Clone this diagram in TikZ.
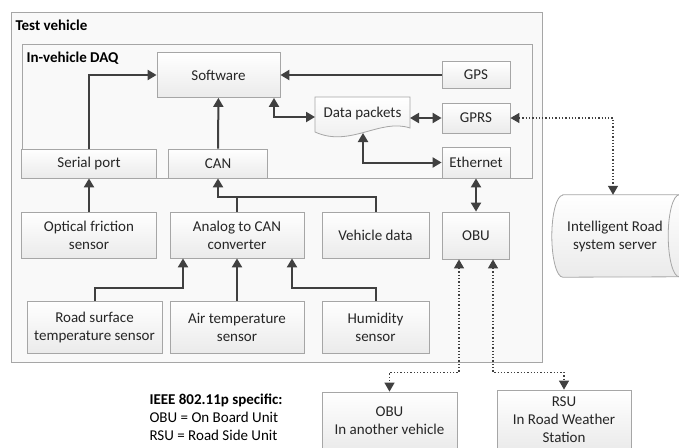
\documentclass[tikz,border=0pt]{standalone}
\usepackage{fontspec}
\setmainfont{Carlito}
\usetikzlibrary{arrows.meta,positioning}

\definecolor{edgegray}{HTML}{A6A6A6}
\definecolor{linkgray}{HTML}{404040}
\definecolor{txtgray}{HTML}{262626}

\begin{document}
\begin{tikzpicture}[x=1pt,y=-1pt,
            font=\fontsize{15}{18}\selectfont,text=txtgray,
            frame/.style={draw=edgegray,fill=gray!5,line width=.8pt},
            unit/.style={draw=edgegray,line width=.8pt,top color=white,bottom color=gray!16,
                         align=center,inner sep=2pt},
            title/.style={anchor=west,font=\fontsize{15}{18}\selectfont\bfseries,text=black},
            link/.style={draw=linkgray,line width=2pt,-{Triangle[length=9pt,width=10pt]}},
            dlink/.style={link,{Triangle[length=9pt,width=10pt]}-{Triangle[length=9pt,width=10pt]}},
            radio/.style={dlink,line width=1.3pt,dotted}
          ]
          \useasboundingbox (0,0) rectangle (679,447);
          \clip (0,0) rectangle (679,447);

          %containers
          \node[frame,minimum width=531,minimum height=350] (car) at (276.5,187) {};
          \node[title] (cartitle) at (12,25) {Test vehicle};
          \node[frame,minimum width=510,minimum height=134] (daq) at (277,111) {};
          \node[title] (daqtitle) at (23,58) {In-vehicle DAQ};

          %acquisition units
          \node[unit,minimum width=123,minimum height=45] (soft) at (218.5,75) {Software};
          \node[unit,minimum width=135,minimum height=29] (serial) at (89,163.5) {Serial port};
          \node[unit,minimum width=99,minimum height=29] (can) at (218,163.5) {CAN};
          \node[unit,minimum width=68,minimum height=27] (gps) at (476,75) {GPS};
          \node[unit,minimum width=68,minimum height=30] (gprs) at (476,118) {GPRS};
          \node[unit,minimum width=68,minimum height=31] (eth) at (476,162.5) {Ethernet};

          %data packets document
          \coordinate (dpA) at (315,97);
          \coordinate (dpB) at (410,97);
          \path[draw=edgegray,line width=.8pt,top color=white,bottom color=gray!16]
            (dpA) -- (dpB) -- (410,128) .. controls (380,118) and (350,148) .. (315,132) -- cycle;
          \node (data) at (362.5,113) {Data packets};
          \coordinate (dpW) at (315,117);
          \coordinate (dpE) at (410,118);
          \coordinate (dpS) at (363,133);

          %sensors
          \node[unit,minimum width=135,minimum height=46] (opt) at (89,235) {Optical friction\\sensor};
          \node[unit,minimum width=134,minimum height=46] (adc) at (237,235) {Analog to CAN\\converter};
          \node[unit,minimum width=107,minimum height=46] (veh) at (375.5,235) {Vehicle data};
          \node[unit,minimum width=67,minimum height=47] (obu) at (476,235.5) {OBU};
          \node[unit,minimum width=135,minimum height=52] (road) at (94.5,327) {Road surface\\temperature sensor};
          \node[unit,minimum width=134,minimum height=52] (air) at (237,327) {Air temperature\\sensor};
          \node[unit,minimum width=107,minimum height=52] (hum) at (375.5,327) {Humidity\\sensor};

          %outside the vehicle
          \node[minimum width=116,minimum height=82,align=center] (server) at (621,236) {};
          \path[draw=edgegray,line width=.8pt,top color=white,bottom color=gray!16]
            (server.north west) -- (server.north east)
            arc[start angle=-90,end angle=90,x radius=11,y radius=41]
            -- (server.south west)
            arc[start angle=90,end angle=270,x radius=11,y radius=41] -- cycle;
          \draw[edgegray,line width=.8pt] (server.north east)
            arc[start angle=-90,end angle=-270,x radius=11,y radius=41];
          \node[align=center] (servertext) at (615,236) {Intelligent Road\\system server};
          \node[unit,minimum width=135,minimum height=58] (obu2) at (389.5,421) {OBU\\In another vehicle};
          \node[unit,minimum width=134,minimum height=60] (rsu) at (564,420) {RSU\\In Road Weather\\Station};

          %legend
          \node[anchor=west,align=left,text=black] (legend) at (146,417)
            {\textbf{IEEE 802.11p specific:}\\OBU = On Board Unit\\RSU = Road Side Unit};

          %links
          \coordinate (bus) at (218,197);
          \coordinate (gprsturn) at (613,118);
          \draw[link] (gps) -- (soft);
          \draw[link] (serial.north) |- (soft.west);
          \draw[link] (can) -- (soft);
          \draw[link] (opt) -- (serial);
          \draw[link] (air) -- (adc);
          \draw[link,-] (adc.north) -- (adc.north |- bus);
          \draw[link] (veh.north) |- (bus) -- (can.south);
          \draw[link] (road.north) |- ++(88.5,-13) -- ([xshift=-54pt]adc.south);
          \draw[link] (hum.north) |- ++(-83.5,-13) -- ([xshift=55pt]adc.south);
          \draw[dlink] ([xshift=55.5pt]soft.south) |- (dpW);
          \draw[dlink] (dpE) -- (gprs.west);
          \draw[dlink] (dpS) |- (eth.west);
          \draw[dlink] (eth) -- (obu);
          \draw[radio] (gprs.east) -- (gprsturn) -- (gprsturn |- server.north);
          \draw[radio] ([xshift=-17pt]obu.south) -- ++(0,113) -| (obu2.north);
          \draw[radio] ([xshift=17pt]obu.south) -- ++(0,113) -| (rsu.north);

      \end{tikzpicture}
\end{document}
